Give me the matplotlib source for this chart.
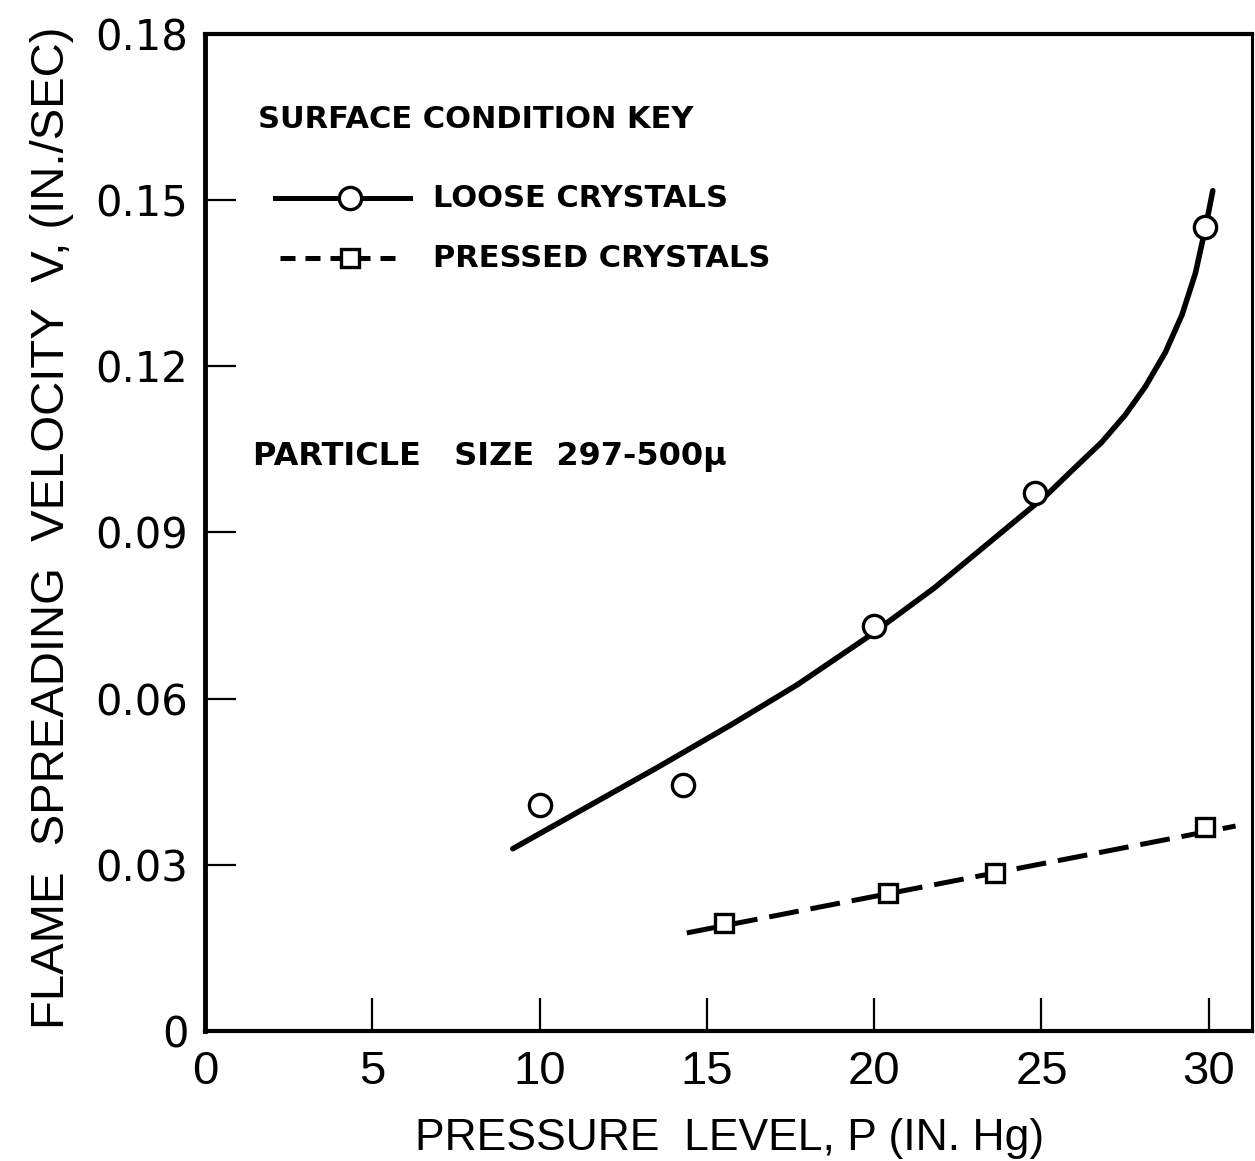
import matplotlib.pyplot as plt
from matplotlib.lines import Line2D

# measured points
pressure_loose = [10.0, 14.3, 20.0, 24.8, 29.9]
velocity_loose = [0.0408, 0.0444, 0.0731, 0.0971, 0.1452]
pressure_pressed = [15.5, 20.4, 23.6, 29.9]
velocity_pressed = [0.0195, 0.0249, 0.0285, 0.0368]

# faired curves as drawn on the original figure
fair_loose_p = [9.2, 11.2, 13.5, 15.7, 17.7, 19.8, 21.8, 23.5, 25.16, 26.0, 26.8, 27.5,
                28.1, 28.7, 29.2, 29.6, 29.9, 30.12]
fair_loose_v = [0.0329, 0.0397, 0.0475, 0.0552, 0.0625, 0.0711, 0.0800, 0.0885, 0.0968, 0.1017,
                0.1063, 0.1112, 0.1163, 0.1225, 0.1293, 0.1368, 0.1450, 0.1517]
fair_pressed_p = [14.4, 30.8]
fair_pressed_v = [0.0177, 0.0370]

xticks = [0, 5, 10, 15, 20, 25, 30]
yticks = [0, 0.03, 0.06, 0.09, 0.12, 0.15, 0.18]
ytick_labels = ['0', '0.03', '0.06', '0.09', '0.12', '0.15', '0.18']

narrow = ['Liberation Sans', 'DejaVu Sans']
lettering = ['DejaVu Sans']

fig = plt.figure(figsize=(12.55, 11.61), dpi=100)
ax = fig.add_axes([0.1633, 0.112, 0.834, 0.8587])

dash = (6, 2.4)
ax.plot(fair_loose_p, fair_loose_v, '-', color='black', lw=4, solid_capstyle='round',
        solid_joinstyle='round', zorder=2)
ax.plot(fair_pressed_p, fair_pressed_v, '--', color='black', lw=3.6, dashes=dash, zorder=2)
ax.plot(pressure_loose, velocity_loose, 'o', ms=16, mfc='white', mec='black', mew=2.4, zorder=3)
ax.plot(pressure_pressed, velocity_pressed, 's', ms=13, mfc='white', mec='black', mew=2.4, zorder=3)

ax.set_xlim(0, 31.28)
ax.set_ylim(0, 0.18)
ax.set_xticks(xticks)
ax.set_xticklabels([str(t) for t in xticks], family=narrow, fontsize=34)
ax.set_yticks(yticks)
ax.set_yticklabels(ytick_labels, family=lettering, fontsize=30)
ax.tick_params(axis='x', direction='in', length=24, width=1.6, pad=14)
ax.tick_params(axis='y', direction='in', length=22, width=1.6, pad=12)

for side, w in [('left', 3.5), ('bottom', 3), ('top', 3), ('right', 2.2)]:
    ax.spines[side].set_linewidth(w)

# key drawn inside the frame
key_size = 22
ax.text(0.0506, 0.9147, 'SURFACE CONDITION KEY', transform=ax.transAxes, family=lettering,
        fontsize=key_size, fontweight='bold', va='center', ha='left')
ax.add_line(Line2D([0.0669, 0.196], [0.8355, 0.8355], transform=ax.transAxes, color='black', lw=3.6))
ax.plot([0.1385], [0.8355], 'o', transform=ax.transAxes, ms=16, mfc='white', mec='black', mew=2.4)
ax.text(0.2178, 0.8355, 'LOOSE CRYSTALS', transform=ax.transAxes, family=lettering,
        fontsize=key_size, fontweight='bold', va='center', ha='left')
ax.add_line(Line2D([0.0716, 0.191], [0.7753, 0.7753], transform=ax.transAxes, color='black', lw=3.6,
                   ls='--', dashes=(3, 2)))
ax.plot([0.1385], [0.7753], 's', transform=ax.transAxes, ms=13, mfc='white', mec='black', mew=2.4)
ax.text(0.2178, 0.7753, 'PRESSED CRYSTALS', transform=ax.transAxes, family=lettering,
        fontsize=key_size, fontweight='bold', va='center', ha='left')
ax.text(0.0458, 0.5767, 'PARTICLE   SIZE  297-500μ', transform=ax.transAxes, family=lettering,
        fontsize=key_size + 1, fontweight='bold', va='center', ha='left')

fig.text(0.5817, 0.0198, 'PRESSURE  LEVEL, P (IN. Hg)', family=narrow, fontsize=32,
         ha='center', va='center')
fig.text(0.0414, 0.545, 'FLAME  SPREADING  VELOCITY  V, (IN./SEC)', family=narrow, fontsize=34,
         ha='center', va='center', rotation=90)

fig.savefig('out.png', dpi=100)
